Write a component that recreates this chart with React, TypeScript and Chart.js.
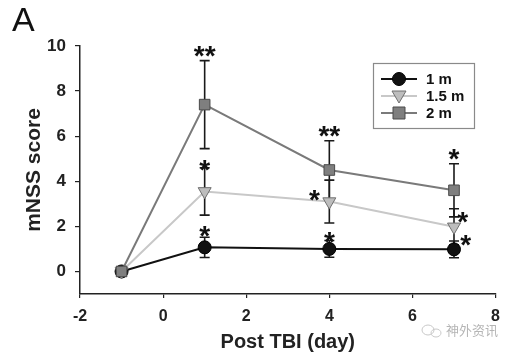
import React, { useEffect, useRef } from "react";
import { Chart, registerables } from "chart.js";

Chart.register(...registerables);

const days = [-1, 1, 4, 7];
const seriesNames = ["1 m", "1.5 m", "2 m"];
const score1m = [0, 1.07, 1.0, 0.98];
const err1m = [0, 0.45, 0.37, 0.37];
const score15m = [0, 3.55, 3.1, 1.98];
const err15m = [0, 1.05, 0.95, 0.8];
const score2m = [0, 7.4, 4.5, 3.6];
const err2m = [0, 1.95, 1.3, 1.18];
const xTicks = [-2, 0, 2, 4, 6, 8];
const yTicks = [0, 2, 4, 6, 8, 10];
// significance marks: [day, score, label]
const starMarks: [number, number, string][] = [
  [1, 9.85, "**"],
  [1, 4.8, "*"],
  [1, 1.9, "*"],
  [4, 6.3, "**"],
  [3.64, 3.5, "*"],
  [4, 1.62, "*"],
  [7, 5.3, "*"],
  [7.21, 2.52, "*"],
  [7.28, 1.5, "*"],
];
const panelLabel = "A";
const xTitle = "Post TBI (day)";
const yTitle = "mNSS score";
const watermark = "神外资讯";

const FONT = "'Liberation Sans', Arial, sans-serif";

const styles = [
  { line: "#111111", fill: "#111111", border: "#000000", shape: "circle" },
  { line: "#c8c8c8", fill: "#bdbdbd", border: "#6f6f6f", shape: "triangle" },
  { line: "#7a7a7a", fill: "#7f7f7f", border: "#4a4a4a", shape: "rect" },
];

function drawMarker(ctx: CanvasRenderingContext2D, shape: string, x: number, y: number, s: any) {
  ctx.save();
  ctx.fillStyle = s.fill;
  ctx.strokeStyle = s.border;
  ctx.lineWidth = 1;
  ctx.beginPath();
  if (shape === "circle") {
    ctx.arc(x, y, 6.5, 0, Math.PI * 2);
  } else if (shape === "triangle") {
    ctx.moveTo(x - 7, y - 5);
    ctx.lineTo(x + 7, y - 5);
    ctx.lineTo(x, y + 7);
    ctx.closePath();
  } else {
    ctx.rect(x - 6, y - 6, 12, 12);
  }
  ctx.fill();
  ctx.stroke();
  ctx.restore();
}

const overlay = {
  id: "overlay",
  beforeDatasetsDraw(chart: any) {
    const ctx = chart.ctx as CanvasRenderingContext2D;
    const xs = chart.scales.x;
    const ys = chart.scales.y;
    const errs = [err1m, err15m, err2m];
    const vals = [score1m, score15m, score2m];
    ctx.save();
    ctx.strokeStyle = "#1a1a1a";
    ctx.lineWidth = 1.6;
    for (let d = 0; d < 3; d++) {
      for (let i = 0; i < days.length; i++) {
        const e = errs[d][i];
        if (!e) continue;
        const x = xs.getPixelForValue(days[i]);
        const yt = ys.getPixelForValue(vals[d][i] + e);
        const yb = ys.getPixelForValue(vals[d][i] - e);
        ctx.beginPath();
        ctx.moveTo(x, yt);
        ctx.lineTo(x, yb);
        ctx.moveTo(x - 5, yt);
        ctx.lineTo(x + 5, yt);
        ctx.moveTo(x - 5, yb);
        ctx.lineTo(x + 5, yb);
        ctx.stroke();
      }
    }
    ctx.restore();
  },
  afterDraw(chart: any) {
    const ctx = chart.ctx as CanvasRenderingContext2D;
    const xs = chart.scales.x;
    const ys = chart.scales.y;
    ctx.save();
    // stars
    ctx.fillStyle = "#111";
    ctx.font = `bold 28px ${FONT}`;
    ctx.textAlign = "center";
    ctx.textBaseline = "alphabetic";
    for (const [dx, dy, lab] of starMarks) {
      const x = xs.getPixelForValue(dx);
      const y = ys.getPixelForValue(dy);
      ctx.fillText(lab, x, y + 16);
    }
    // legend
    const lx = 373, ly = 63, lw = 101, lh = 65;
    ctx.strokeStyle = "#8a8a8a";
    ctx.lineWidth = 1.2;
    ctx.strokeRect(lx + 0.5, ly + 0.5, lw, lh);
    const rows = [79, 96, 113];
    ctx.font = `bold 15px ${FONT}`;
    ctx.textAlign = "left";
    ctx.textBaseline = "middle";
    for (let i = 0; i < 3; i++) {
      const s = styles[i];
      ctx.strokeStyle = s.line;
      ctx.lineWidth = 2;
      ctx.beginPath();
      ctx.moveTo(381, rows[i]);
      ctx.lineTo(417, rows[i]);
      ctx.stroke();
      drawMarker(ctx, s.shape, 399, rows[i], s);
      ctx.fillStyle = "#111";
      ctx.fillText(seriesNames[i], 426, rows[i] + 1);
    }
    // panel label
    ctx.fillStyle = "#111";
    ctx.font = `34px ${FONT}`;
    ctx.textAlign = "left";
    ctx.textBaseline = "alphabetic";
    ctx.fillText(panelLabel, 12, 31);
    // watermark
    ctx.strokeStyle = "#c8c8c8";
    ctx.lineWidth = 1;
    ctx.beginPath();
    ctx.ellipse(428, 330, 6, 5, 0, 0, Math.PI * 2);
    ctx.stroke();
    ctx.beginPath();
    ctx.ellipse(436, 333, 5, 4, 0, 0, Math.PI * 2);
    ctx.stroke();
    ctx.fillStyle = "#b5b5b5";
    ctx.font = `13px 'Noto Sans CJK SC', sans-serif`;
    ctx.textBaseline = "middle";
    ctx.fillText(watermark, 446, 330);
    ctx.restore();
  },
};

export default function App() {
  const ref = useRef<HTMLCanvasElement>(null);
  useEffect(() => {
    if (!ref.current) return;
    const mk = (vals: number[], i: number) => ({
      label: seriesNames[i],
      data: days.map((d, k) => ({ x: d, y: vals[k] })),
      borderColor: styles[i].line,
      borderWidth: 2,
      backgroundColor: styles[i].fill,
      pointBackgroundColor: styles[i].fill,
      pointBorderColor: styles[i].border,
      pointBorderWidth: 1,
      pointStyle: styles[i].shape,
      pointRotation: styles[i].shape === "triangle" ? 180 : 0,
      pointRadius: styles[i].shape === "circle" ? 6.5 : 7.5,
      showLine: true,
      tension: 0,
    });
    const chart = new Chart(ref.current, {
      type: "scatter",
      data: {
        datasets: [mk(score2m, 2), mk(score15m, 1), mk(score1m, 0)],
      },
      options: {
        animation: false,
        responsive: false,
        layout: { padding: { top: 46, right: 10, left: 0, bottom: 0 } },
        plugins: { legend: { display: false }, tooltip: { enabled: false } },
        scales: {
          x: {
            type: "linear",
            min: -2,
            max: 8,
            afterBuildTicks: (s: any) => {
              s.ticks = xTicks.map((v) => ({ value: v }));
            },
            afterFit: (s: any) => {
              s.height = 60;
            },
            grid: { drawOnChartArea: false, color: "#222", tickLength: 4, lineWidth: 1.2 },
            border: { color: "#222", width: 1.5 },
            ticks: {
              color: "#222",
              padding: 9,
              maxRotation: 0,
              font: { family: FONT, size: 16, weight: "bold" },
            },
            title: {
              display: true,
              text: xTitle,
              color: "#222",
              padding: { top: 0, bottom: 0 },
              font: { family: FONT, size: 20, weight: "bold" },
            },
          },
          y: {
            type: "linear",
            min: -1,
            max: 10,
            afterBuildTicks: (s: any) => {
              s.ticks = yTicks.map((v) => ({ value: v }));
            },
            afterFit: (s: any) => {
              s.width = 80;
            },
            grid: { drawOnChartArea: false, color: "#222", tickLength: 5, lineWidth: 1.2 },
            border: { color: "#222", width: 1.5 },
            ticks: {
              color: "#222",
              padding: 9,
              font: { family: FONT, size: 17, weight: "bold" },
            },
            title: {
              display: true,
              text: yTitle,
              color: "#222",
              padding: { top: 22, bottom: 0 },
              font: { family: FONT, size: 21, weight: "bold" },
            },
          },
        },
      },
      plugins: [overlay],
    } as any);
    return () => chart.destroy();
  }, []);
  return (
    <div style={{ position: "absolute", left: 0, top: 0, width: 509, height: 354, background: "#fff" }}>
      <canvas ref={ref} width={509} height={354} />
    </div>
  );
}
